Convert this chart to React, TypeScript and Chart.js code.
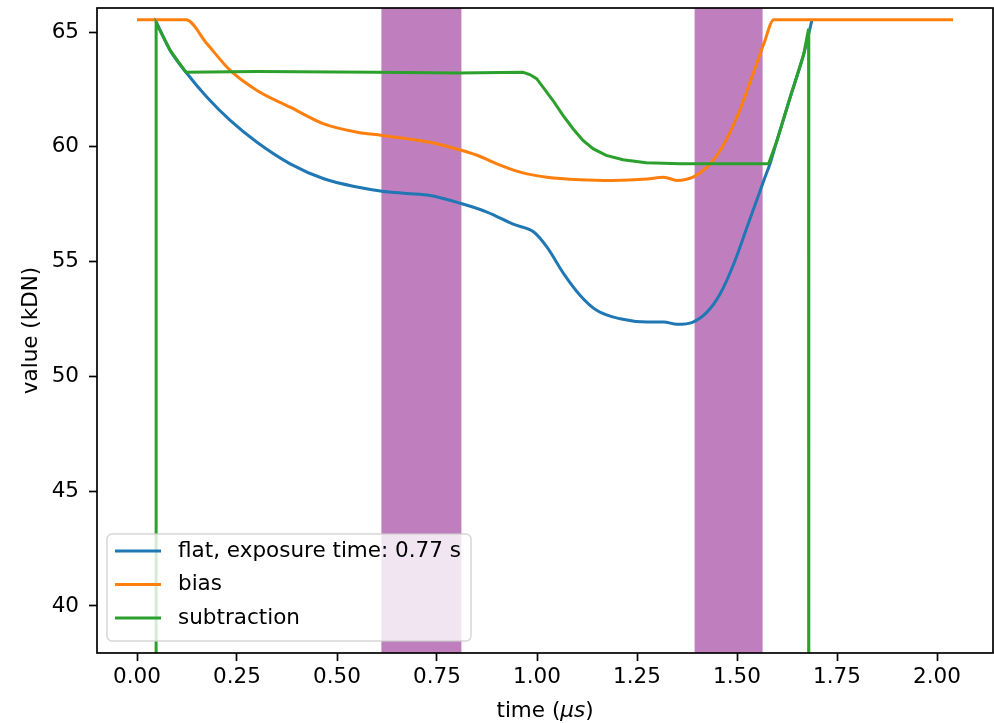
import { useEffect, useRef } from "react";
import { Chart, registerables } from "chart.js";

Chart.register(...registerables);

// ---- data ----
const timeFlat = [0.0475, 0.083, 0.1225, 0.175, 0.233, 0.3, 0.383, 0.467, 0.55, 0.6125, 0.675, 0.733, 0.8125, 0.875, 0.942, 0.992, 1.025, 1.067, 1.108, 1.15, 1.208, 1.275, 1.317, 1.35, 1.39, 1.425, 1.458, 1.492, 1.525, 1.567, 1.583, 1.6, 1.633, 1.667, 1.6875];
const flatValues = [65.47, 64.2, 63.25, 62.16, 61.15, 60.2, 59.26, 58.61, 58.25, 58.07, 57.97, 57.88, 57.52, 57.16, 56.62, 56.29, 55.63, 54.47, 53.53, 52.87, 52.51, 52.37, 52.37, 52.27, 52.37, 52.8, 53.6, 54.91, 56.5, 58.54, 59.29, 60.28, 62.16, 64.05, 65.535];

const timeBias = [0, 0.1225, 0.175, 0.233, 0.3, 0.383, 0.467, 0.55, 0.6125, 0.733, 0.8125, 0.858, 0.9, 0.958, 1.025, 1.108, 1.19, 1.275, 1.317, 1.35, 1.39, 1.425, 1.458, 1.5, 1.54, 1.567, 1.592, 2.04];
const biasValues = [65.535, 65.535, 64.49, 63.33, 62.46, 61.73, 61.0, 60.64, 60.5, 60.2, 59.84, 59.58, 59.26, 58.9, 58.68, 58.57, 58.54, 58.6, 58.68, 58.54, 58.68, 59.12, 59.84, 61.3, 63.18, 64.49, 65.535, 65.535];

const timeSub = [0.0475, 0.0478, 0.083, 0.1225, 0.3, 0.6, 0.8, 0.965, 0.982, 0.999, 1.015, 1.04, 1.065, 1.09, 1.115, 1.14, 1.173, 1.215, 1.273, 1.358, 1.579, 1.6, 1.633, 1.667, 1.679, 1.6795];
const subValues = [0, 65.4, 64.2, 63.25, 63.28, 63.25, 63.22, 63.25, 63.15, 62.97, 62.6, 62.02, 61.37, 60.79, 60.28, 59.92, 59.63, 59.44, 59.31, 59.26, 59.26, 60.28, 62.16, 64.05, 65.14, 0];

const spanStarts = [0.611, 1.394];
const spanEnds = [0.811, 1.564];

const xTickValues = [0, 0.25, 0.5, 0.75, 1.0, 1.25, 1.5, 1.75, 2.0];
const yTickValues = [40, 45, 50, 55, 60, 65];

const seriesLabels = ["flat, exposure time: 0.77 s", "bias", "subtraction"];
const seriesColors = ["#1f77b4", "#ff7f0e", "#2ca02c"];

const yTitle = "value (kDN)";
const xTitleParts = ["time (", "\u03bcs", ")"];

const FAMILY = '"DejaVu Sans", sans-serif';
const FS = 21.5;

const toPoints = (xs: number[], ys: number[]) => xs.map((x, i) => ({ x, y: ys[i] }));

const spansPlugin = {
  id: "spans",
  beforeDatasetsDraw(chart: any) {
    const { ctx, chartArea, scales } = chart;
    ctx.save();
    ctx.beginPath();
    ctx.rect(chartArea.left, chartArea.top, chartArea.right - chartArea.left, chartArea.bottom - chartArea.top);
    ctx.clip();
    ctx.fillStyle = "rgba(128,0,128,0.5)";
    spanStarts.forEach((s, i) => {
      const x0 = scales.x.getPixelForValue(s);
      const x1 = scales.x.getPixelForValue(spanEnds[i]);
      ctx.fillRect(x0, chartArea.top, x1 - x0, chartArea.bottom - chartArea.top);
    });
    ctx.restore();
  },
};

const framePlugin = {
  id: "frame",
  afterDatasetsDraw(chart: any) {
    const { ctx, chartArea } = chart;
    ctx.save();
    ctx.strokeStyle = "#000";
    ctx.lineWidth = 1.7;
    ctx.strokeRect(chartArea.left, chartArea.top, chartArea.right - chartArea.left, chartArea.bottom - chartArea.top);
    ctx.restore();
  },
};

const overlayPlugin = {
  id: "overlay",
  afterDraw(chart: any) {
    const { ctx, chartArea } = chart;
    ctx.save();
    // legend
    ctx.font = `${FS}px ${FAMILY}`;
    const textW = Math.max(...seriesLabels.map((l) => ctx.measureText(l).width));
    const rowPitch = 33.5;
    const boxLeft = chartArea.left + 10;
    const boxBottom = chartArea.bottom - 12;
    const boxH = 17 + 2 * rowPitch + 23;
    const boxTop = boxBottom - boxH;
    const handleX0 = boxLeft + 8;
    const handleLen = 46;
    const textX = handleX0 + handleLen + 17;
    const boxW = textX + textW + 10 - boxLeft;
    const r = 5;
    ctx.beginPath();
    ctx.moveTo(boxLeft + r, boxTop);
    ctx.lineTo(boxLeft + boxW - r, boxTop);
    ctx.arcTo(boxLeft + boxW, boxTop, boxLeft + boxW, boxTop + r, r);
    ctx.lineTo(boxLeft + boxW, boxTop + boxH - r);
    ctx.arcTo(boxLeft + boxW, boxTop + boxH, boxLeft + boxW - r, boxTop + boxH, r);
    ctx.lineTo(boxLeft + r, boxTop + boxH);
    ctx.arcTo(boxLeft, boxTop + boxH, boxLeft, boxTop + boxH - r, r);
    ctx.lineTo(boxLeft, boxTop + r);
    ctx.arcTo(boxLeft, boxTop, boxLeft + r, boxTop, r);
    ctx.closePath();
    ctx.fillStyle = "rgba(255,255,255,0.8)";
    ctx.fill();
    ctx.strokeStyle = "rgba(204,204,204,0.8)";
    ctx.lineWidth = 1.5;
    ctx.stroke();
    seriesLabels.forEach((label, i) => {
      const y = boxTop + 17 + i * rowPitch;
      ctx.strokeStyle = seriesColors[i];
      ctx.lineWidth = 3;
      ctx.beginPath();
      ctx.moveTo(handleX0, y);
      ctx.lineTo(handleX0 + handleLen, y);
      ctx.stroke();
      ctx.fillStyle = "#000";
      ctx.textAlign = "left";
      ctx.textBaseline = "middle";
      ctx.fillText(label, textX, y);
    });
    // x axis title with italic mu s
    const fonts = [`${FS}px ${FAMILY}`, `italic ${FS}px ${FAMILY}`, `${FS}px ${FAMILY}`];
    const widths = xTitleParts.map((p, i) => {
      ctx.font = fonts[i];
      return ctx.measureText(p).width;
    });
    const total = widths.reduce((a, b) => a + b, 0);
    let x = (chartArea.left + chartArea.right) / 2 - total / 2;
    const ty = 711;
    xTitleParts.forEach((p, i) => {
      ctx.font = fonts[i];
      ctx.fillStyle = "#000";
      ctx.textAlign = "left";
      ctx.textBaseline = "middle";
      ctx.fillText(p, x, ty);
      x += widths[i];
    });
    ctx.restore();
  },
};

export default function App() {
  const ref = useRef<HTMLCanvasElement>(null);
  useEffect(() => {
    if (!ref.current) return;
    const chart = new Chart(ref.current, {
      type: "line",
      data: {
        datasets: [
          {
            label: seriesLabels[0],
            data: toPoints(timeFlat, flatValues),
            borderColor: seriesColors[0],
            backgroundColor: seriesColors[0],
            borderWidth: 3,
            pointRadius: 0,
            cubicInterpolationMode: "monotone",
            fill: false,
            order: 3,
          },
          {
            label: seriesLabels[1],
            data: toPoints(timeBias, biasValues),
            borderColor: seriesColors[1],
            backgroundColor: seriesColors[1],
            borderWidth: 3,
            pointRadius: 0,
            cubicInterpolationMode: "monotone",
            fill: false,
            order: 2,
          },
          {
            label: seriesLabels[2],
            data: toPoints(timeSub, subValues),
            borderColor: seriesColors[2],
            backgroundColor: seriesColors[2],
            borderWidth: 3,
            pointRadius: 0,
            tension: 0,
            fill: false,
            order: 1,
          },
        ],
      },
      options: {
        responsive: false,
        animation: false,
        devicePixelRatio: 1,
        layout: { padding: { top: 8, right: 1, left: 0, bottom: 0 } },
        plugins: { legend: { display: false }, tooltip: { enabled: false } },
        scales: {
          x: {
            type: "linear",
            min: -0.1,
            max: 2.14,
            afterFit: (s: any) => {
              s.height = 70;
              s.paddingLeft = 0;
              s.paddingRight = 0;
            },
            afterBuildTicks: (s: any) => {
              s.ticks = xTickValues.map((v) => ({ value: v }));
            },
            ticks: {
              callback: (v: any) => Number(v).toFixed(2),
              color: "#000",
              font: { family: FAMILY, size: FS },
              padding: 4,
              maxRotation: 0,
              autoSkip: false,
            },
            grid: { drawOnChartArea: false, drawTicks: true, tickLength: 8, tickWidth: 1.7, tickColor: "#000" },
            border: { display: false },
          },
          y: {
            type: "linear",
            min: 37.95,
            max: 66.05,
            afterFit: (s: any) => {
              s.width = 97;
              s.paddingTop = 0;
              s.paddingBottom = 0;
            },
            afterBuildTicks: (s: any) => {
              s.ticks = yTickValues.map((v) => ({ value: v }));
            },
            ticks: {
              callback: (v: any) => String(v),
              color: "#000",
              font: { family: FAMILY, size: FS },
              padding: 10,
              autoSkip: false,
            },
            title: {
              display: true,
              text: yTitle,
              color: "#000",
              font: { family: FAMILY, size: FS },
              padding: { top: 18.3, bottom: 0 },
            },
            grid: { drawOnChartArea: false, drawTicks: true, tickLength: 8, tickWidth: 1.7, tickColor: "#000" },
            border: { display: false },
          },
        },
      },
      plugins: [spansPlugin, framePlugin, overlayPlugin],
    } as any);
    return () => chart.destroy();
  }, []);
  return (
    <div style={{ position: "fixed", left: 0, top: 0, width: 994, height: 723, background: "#fff" }}>
      <canvas ref={ref} width={994} height={723} style={{ display: "block", width: 994, height: 723 }} />
    </div>
  );
}
